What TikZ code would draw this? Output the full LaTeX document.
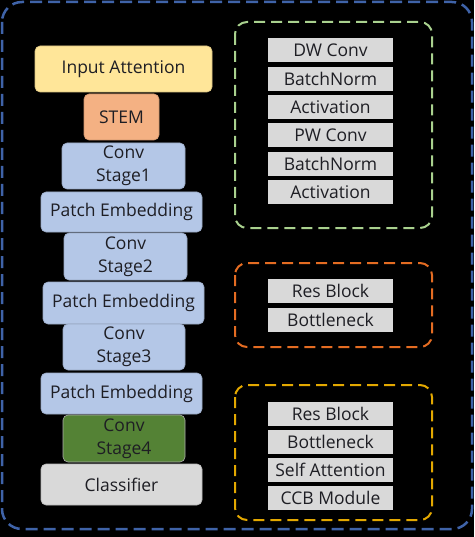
\documentclass[tikz,border=0pt]{standalone}
\usepackage{fontspec}
\setmainfont{Open Sans}
\usepackage{tikz}
\definecolor{frameblue}{HTML}{3F63A8}
\definecolor{framegreen}{HTML}{A9D18E}
\definecolor{frameorange}{HTML}{E46C22}
\definecolor{framegold}{HTML}{E3A800}
\definecolor{inyellow}{HTML}{FFE699}
\definecolor{stemorange}{HTML}{F4B183}
\definecolor{stageblue}{HTML}{B4C7E7}
\definecolor{stagegreen}{HTML}{548235}
\definecolor{clsgray}{HTML}{D9D9D9}
\definecolor{txt}{HTML}{1E1E24}

\begin{document}
\begin{tikzpicture}[x=1pt,y=-1pt,
  block/.style={draw=#1!85!black, line width=0.6pt, fill=#1, rounded corners=5pt,
    text=txt, align=center, inner sep=0pt, font=\fontsize{17.5}{23}\selectfont},
  layer/.style={fill=clsgray, text=txt, inner sep=0pt, minimum width=125pt,
    minimum height=24pt, font=\fontsize{17.5}{20}\selectfont},
  frame/.style={draw=#1, line width=2pt, dash pattern=on 11pt off 6pt, rounded corners=12pt}]
\useasboundingbox[fill=black] (0,0) rectangle (474,537);
\draw[frameblue, line width=2.5pt, dash pattern=on 12pt off 6pt, rounded corners=20pt] (2,2) rectangle (472,529);

\node[block=inyellow, minimum width=177pt, minimum height=46pt] (inatt) at (123.5,69) {Input Attention};
\node[block=stemorange, minimum width=75pt, minimum height=46pt] (stem) at (121.5,117) {STEM};
\node[block=stageblue, minimum width=123pt, minimum height=46pt] (cs1) at (123.5,166) {Conv\\Stage1};
\node[block=stageblue, minimum width=161pt, minimum height=40pt] (pe1) at (121.5,212) {Patch Embedding};
\node[block=stageblue, minimum width=123pt, minimum height=47pt] (cs2) at (125.5,256.5) {Conv\\Stage2};
\node[block=stageblue, minimum width=161pt, minimum height=42pt] (pe2) at (123.5,303) {Patch Embedding};
\node[block=stageblue, minimum width=122pt, minimum height=46pt] (cs3) at (124,347) {Conv\\Stage3};
\node[block=stageblue, minimum width=161pt, minimum height=41pt] (pe3) at (121.5,393.5) {Patch Embedding};
\node[block=stagegreen, draw=clsgray!80!black, minimum width=122pt, minimum height=47pt] (cs4) at (124,438.5) {Conv\\Stage4};
\node[block=clsgray, minimum width=161pt, minimum height=41pt] (cls) at (121.5,484.5) {Classifier};

% depthwise separable conv
\draw[frame=framegreen] (235,22) rectangle (432,228);
\node[layer] (dw) at (330.5,50) {DW Conv};
\node[layer] (bn1) at (330.5,79) {BatchNorm};
\node[layer] (act1) at (330.5,107) {Activation};
\node[layer] (pw) at (330.5,135) {PW Conv};
\node[layer] (bn2) at (330.5,164) {BatchNorm};
\node[layer] (act2) at (330.5,192) {Activation};

% residual
\draw[frame=frameorange] (235,263) rectangle (432,347);
\node[layer] (res1) at (330.5,291) {Res Block};
\node[layer] (bot1) at (330.5,320) {Bottleneck};

% ccb
\draw[frame=framegold] (235,385) rectangle (432,520);
\node[layer] (res2) at (330.5,414) {Res Block};
\node[layer] (bot2) at (330.5,442) {Bottleneck};
\node[layer] (sa) at (330.5,470) {Self Attention};
\node[layer] (ccb) at (330.5,498) {CCB Module};

\end{tikzpicture}
\end{document}
